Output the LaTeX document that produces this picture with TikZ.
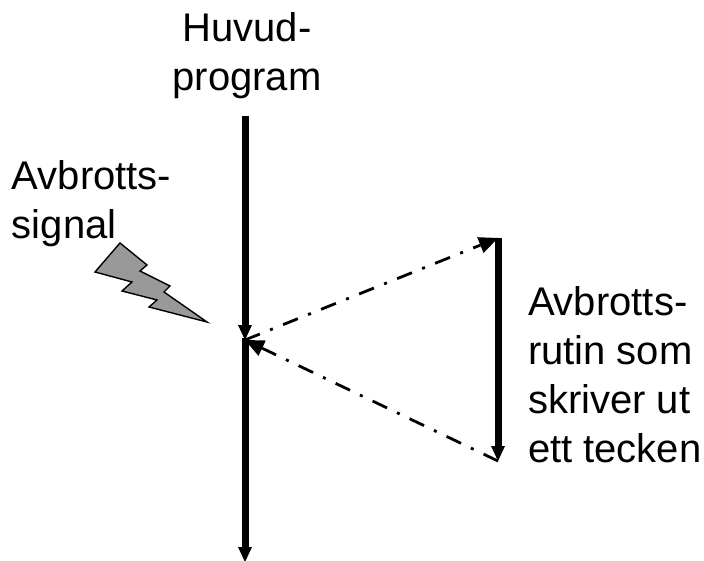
\documentclass[tikz,border=0pt]{standalone}
\usepackage{fontspec}
\setmainfont{Liberation Sans}
\usetikzlibrary{arrows.meta}
\tikzset{
  label text/.style={inner sep=0pt, outer sep=0pt, font=\fontsize{40}{49}\selectfont},
  thick flow/.style={draw=black, line width=7pt, -{Triangle[length=15pt,width=14pt,line width=0pt]}},
  jump flow/.style={draw=black, line width=2.8pt, dash pattern=on 16pt off 11pt on 3pt off 11pt,
    -{Triangle[length=19pt,width=17pt,line width=0pt]}},
  bolt/.style={draw=black, fill=black!40!white, line width=1.4pt, line join=miter}
}
\begin{document}
\begin{tikzpicture}[y=1pt, x=1pt, yscale=-1]
\useasboundingbox (0,0) rectangle (704,561);
\node[label text, align=center, anchor=north] (text1) at (247,13) {Huvud-\\program};
\node[label text, align=left, anchor=north west] (text2) at (12,161) {Avbrotts-\\signal};
\node[label text, align=left, anchor=north west] (text3) at (528,287) {Avbrotts-\\rutin som\\skriver ut\\ett tecken};
\coordinate (main top) at (245,116);
\coordinate (main stop) at (245,340);
\coordinate (main start) at (245,338);
\coordinate (main end) at (245,562);
\coordinate (rutin top) at (498,238);
\coordinate (rutin end) at (498,461);
\draw[thick flow] (main top) -- (main stop);
\draw[thick flow] (main start) -- (main end);
\draw[thick flow] (rutin top) -- (rutin end);
\draw[jump flow] (main stop) -- (rutin top);
\draw[jump flow] (rutin end) -- (main stop);
\path[bolt] (120,243) -- (147,265) -- (140,271) -- (170,286) -- (164,292) -- (207,322)
  -- (149,307) -- (157,300) -- (122,291) -- (132,282) -- (95,272) -- cycle;
\end{tikzpicture}
\end{document}
